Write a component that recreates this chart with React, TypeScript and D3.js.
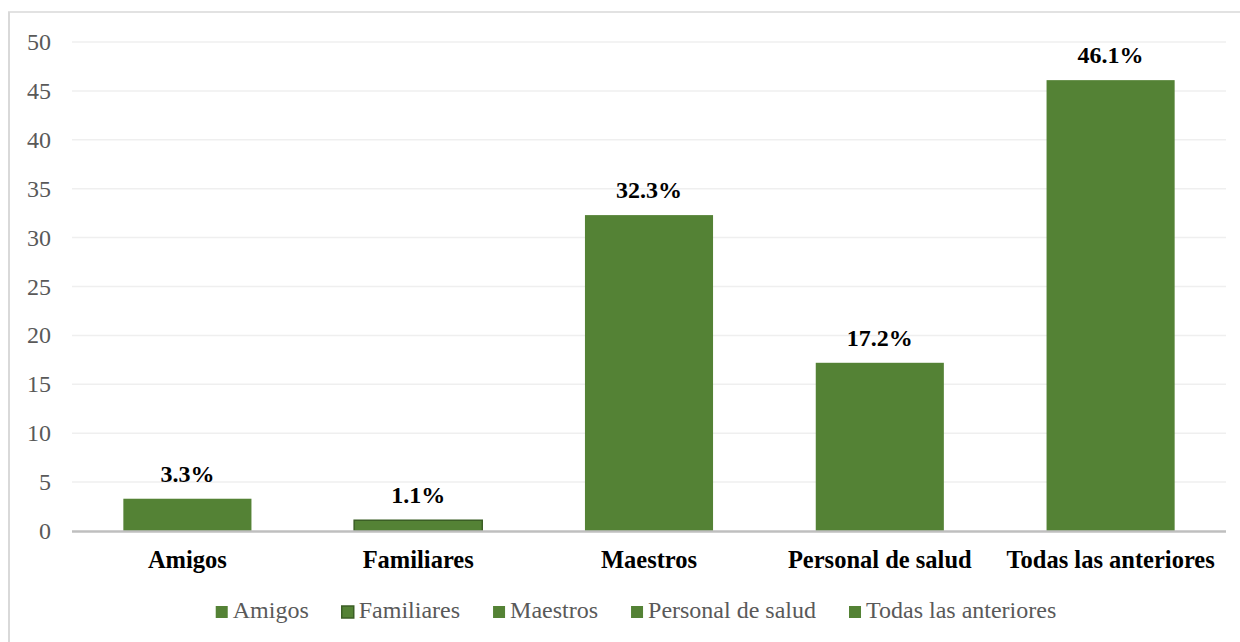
import React, { useEffect, useRef } from "react";
import * as d3 from "d3";

const categories = ["Amigos", "Familiares", "Maestros", "Personal de salud", "Todas las anteriores"];
const values = [3.3, 1.1, 32.3, 17.2, 46.1];
const valueLabels = ["3.3%", "1.1%", "32.3%", "17.2%", "46.1%"];
const yTicks = [0, 5, 10, 15, 20, 25, 30, 35, 40, 45, 50];
const bordered = [false, true, false, false, false];

const W = 1240;
const H = 642;
const FONT = "'Liberation Serif', 'Times New Roman', serif";
const GREEN = "#548235";
const DARK = "#3b5e25";

export default function App() {
  const ref = useRef<SVGSVGElement>(null);
  useEffect(() => {
    const svg = d3.select(ref.current);
    svg.selectAll("*").remove();
    const left = 72, right = 1226, top = 42, bottom = 531;
    const x = d3.scaleBand<string>().domain(categories).range([left, right]).paddingInner(0.445).paddingOuter(0.2225);
    const y = d3.scaleLinear().domain([0, 50]).range([bottom, top]);

    svg.append("rect").attr("x", 0).attr("y", 0).attr("width", W).attr("height", H).attr("fill", "#fff");
    svg.append("line").attr("x1", 9).attr("x2", 9).attr("y1", 12).attr("y2", H).attr("stroke", "#d9d9d9").attr("stroke-width", 2);
    svg.append("line").attr("x1", 8).attr("x2", W).attr("y1", 12).attr("y2", 12).attr("stroke", "#d9d9d9").attr("stroke-width", 1.5);

    const g = svg.append("g");
    g.selectAll("line.grid").data(yTicks.filter(t => t > 0)).join("line")
      .attr("x1", left).attr("x2", right)
      .attr("y1", d => y(d)).attr("y2", d => y(d))
      .attr("stroke", "#efefef").attr("stroke-width", 1.5);
    g.selectAll("text.tick").data(yTicks).join("text")
      .attr("x", 51).attr("y", d => y(d) + 8)
      .attr("text-anchor", "end").attr("font-family", FONT).attr("font-size", 24).attr("fill", "#595959")
      .text(d => String(d));

    g.selectAll("rect.bar").data(values).join("rect")
      .attr("x", (d, i) => x(categories[i])!)
      .attr("width", x.bandwidth())
      .attr("y", d => y(d))
      .attr("height", d => y(0) - y(d))
      .attr("fill", GREEN)
      .attr("stroke", (d, i) => bordered[i] ? DARK : "none")
      .attr("stroke-width", 1.5);

    g.append("line").attr("x1", left).attr("x2", right).attr("y1", bottom + 0.5).attr("y2", bottom + 0.5)
      .attr("stroke", "#bfbfbf").attr("stroke-width", 2.5);

    g.selectAll("text.val").data(values).join("text")
      .attr("x", (d, i) => x(categories[i])! + x.bandwidth() / 2)
      .attr("y", d => y(d) - 17)
      .attr("text-anchor", "middle").attr("font-family", FONT).attr("font-size", 24).attr("font-weight", "bold").attr("fill", "#000")
      .text((d, i) => valueLabels[i]);

    g.selectAll("text.cat").data(categories).join("text")
      .attr("x", d => x(d)! + x.bandwidth() / 2)
      .attr("y", 568)
      .attr("text-anchor", "middle").attr("font-family", FONT).attr("font-size", 24.5).attr("font-weight", "bold").attr("fill", "#000")
      .text(d => d);

    const lg = svg.append("g");
    const items = lg.selectAll("g.item").data(categories).join("g");
    items.append("rect").attr("width", 12).attr("height", 12).attr("y", -12)
      .attr("fill", GREEN)
      .attr("stroke", (d, i) => bordered[i] ? DARK : "none").attr("stroke-width", 1.5);
    items.append("text").attr("x", 17).attr("y", 0)
      .attr("font-family", FONT).attr("font-size", 24).attr("fill", "#595959").text(d => d);
    const widths: number[] = [];
    items.each(function () {
      const t = (this as SVGGElement).querySelector("text") as SVGTextElement;
      widths.push(17 + t.getComputedTextLength());
    });
    const gap = 33;
    const total = d3.sum(widths) + gap * (widths.length - 1);
    let cx = 636 - total / 2;
    items.attr("transform", (d, i) => {
      const tr = `translate(${cx},618)`;
      cx += widths[i] + gap;
      return tr;
    });
  }, []);
  return (
    <svg ref={ref} width={W} height={H} style={{ position: "absolute", left: 0, top: 0, display: "block" }} />
  );
}
